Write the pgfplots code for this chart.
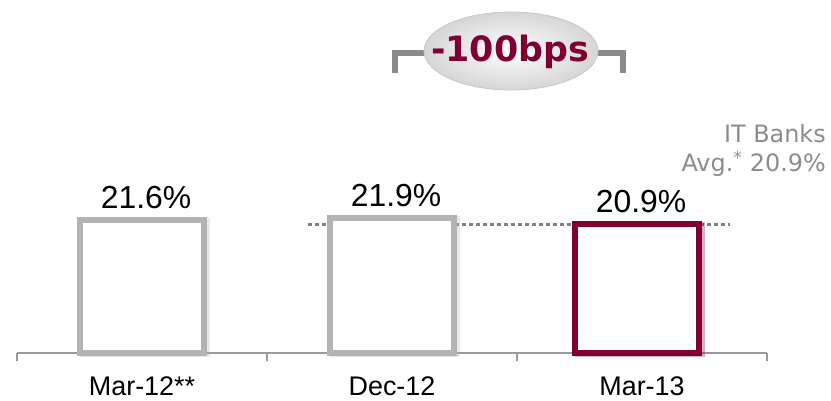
\documentclass[border=0pt]{standalone}
\usepackage{fontspec}
\setmainfont{Liberation Sans}
\newfontfamily\verdana{DejaVu Sans}
\usepackage{pgfplots}
\pgfplotsset{compat=1.18}
\usetikzlibrary{shadows}

\definecolor{maroon}{HTML}{800035}
\definecolor{bargray}{HTML}{B3B3B3}
\definecolor{axisgray}{HTML}{9A9A9A}
\definecolor{dotgray}{HTML}{808080}
\definecolor{labelgray}{HTML}{8C8C8C}
\definecolor{bracketgray}{HTML}{8A8A8A}

\begin{document}
\begin{tikzpicture}
\useasboundingbox (0,0) rectangle (831bp,401bp);
\begin{axis}[
  at={(17bp,48bp)}, anchor=south west,
  scale only axis, width=750bp, height=246bp,
  xmin=0, xmax=3, ymin=0, ymax=40,
  clip=false,
  axis x line=bottom, axis y line=none,
  axis line style={axisgray, line width=1.5bp, -},
  x axis line style={-},
  xtick={0.5,1.5,2.5},
  xticklabels={Mar-12**, Dec-12, Mar-13},
  major tick length=0pt,
  minor xtick={0,1,2,3},
  minor tick length=8bp,
  tick align=outside,
  minor tick style={axisgray, line width=1.5bp},
  xticklabel style={font=\fontsize{27}{31}\selectfont, anchor=base, inner sep=0pt, yshift=-42bp},
  ybar, bar width=124bp, bar shift=0pt,
  /pgf/number format/assume math mode=true,
  nodes near coords={\pgfmathprintnumber[fixed,precision=1,fixed zerofill]{\pgfplotspointmeta}\%},
  every node near coord/.append style={font=\fontsize{32}{36}\selectfont, black, anchor=base, yshift=12bp, xshift=4bp},
]
% IT banks average reference line
\draw[dotgray, line width=3.5bp, dash pattern=on 4bp off 3bp]
  (axis cs:1.164,20.9) -- (axis cs:2.852,20.9);
\addplot[draw=bargray, fill=white, line width=6bp,
  drop shadow={shadow xshift=3bp, shadow yshift=-1bp, opacity=0.3, fill=black!60}]
  coordinates {(0.5,21.6)};
\addplot[draw=bargray, fill=white, line width=6bp,
  drop shadow={shadow xshift=3bp, shadow yshift=-1bp, opacity=0.3, fill=black!60}]
  coordinates {(1.5,21.9)};
\addplot[draw=maroon, fill=white, line width=6bp,
  drop shadow={shadow xshift=3bp, shadow yshift=-1bp, opacity=0.3, fill=black!60}]
  coordinates {(2.48,20.9)};
\end{axis}

% change bubble with bracket
\draw[bracketgray, line width=6bp] (395bp,328bp) -- (395bp,348bp) -- (427bp,348bp);
\draw[bracketgray, line width=6bp] (595bp,348bp) -- (623bp,348bp) -- (623bp,328bp);
\shade[inner color=white, outer color=black!16] (511bp,350bp) ellipse [x radius=87bp, y radius=39bp];
\draw[black!22, line width=0.8bp] (511bp,350bp) ellipse [x radius=87bp, y radius=39bp];
\node[text=maroon, font=\verdana\bfseries\fontsize{35}{40}\selectfont] at (510bp,349bp) {-100bps};

% peer average label
\node[anchor=base east, text=labelgray, font=\verdana\fontsize{24}{28}\selectfont, inner sep=0pt] at (826bp,258bp) {IT Banks};
\node[anchor=base east, text=labelgray, font=\verdana\fontsize{24}{28}\selectfont, inner sep=0pt] at (826bp,229bp) {Avg.\textsuperscript{*} 20.9\%};
\end{tikzpicture}
\end{document}
